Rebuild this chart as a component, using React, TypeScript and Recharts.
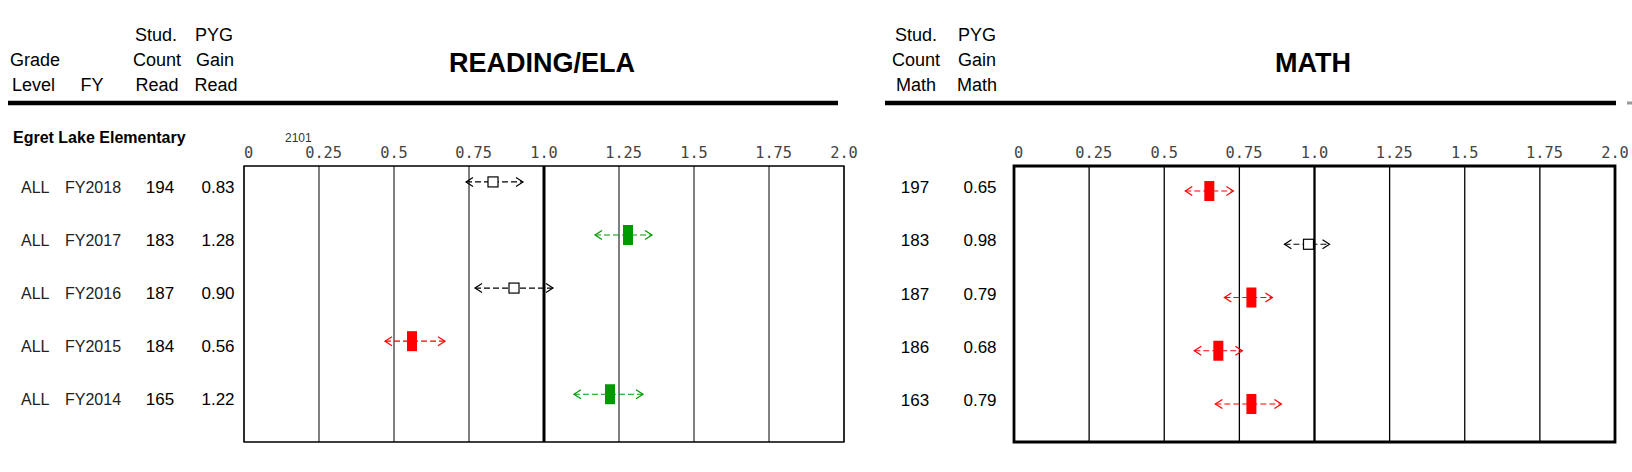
import React from 'react';
import {
  ScatterChart,
  Scatter,
  XAxis,
  YAxis,
  CartesianGrid,
  ReferenceLine,
  ReferenceArea,
} from 'recharts';

// school + rows
const schoolName = 'Egret Lake Elementary';
const schoolCode = '2101';
const gradeLevels = ['ALL', 'ALL', 'ALL', 'ALL', 'ALL'];
const fiscalYears = ['FY2018', 'FY2017', 'FY2016', 'FY2015', 'FY2014'];

// reading / ELA
const readCount = [194, 183, 187, 184, 165];
const readGain = [0.83, 1.28, 0.9, 0.56, 1.22];
const readLow = [0.74, 1.17, 0.77, 0.47, 1.1];
const readHigh = [0.93, 1.36, 1.03, 0.67, 1.33];
const readStatus = ['none', 'up', 'none', 'down', 'up'];

// math
const mathCount = [197, 183, 187, 186, 163];
const mathGain = [0.65, 0.98, 0.79, 0.68, 0.79];
const mathLow = [0.57, 0.9, 0.7, 0.6, 0.67];
const mathHigh = [0.73, 1.05, 0.86, 0.76, 0.89];
const mathStatus = ['down', 'none', 'down', 'down', 'down'];

const xTicks = [0, 0.25, 0.5, 0.75, 1, 1.25, 1.5, 1.75, 2];
const xTickLabels = ['0', '0.25', '0.5', '0.75', '1.0', '1.25', '1.5', '1.75', '2.0'];

const COLORS: Record<string, string> = { up: '#009a00', down: '#ff0000', none: '#000000' };
const SANS = '"Liberation Sans", Arial, sans-serif';
const MONO = '"DejaVu Sans Mono", monospace';
const CW = 9.2; // mono char width at 15.3px

const renderXTick = (props: any) => {
  const { x, payload } = props;
  const idx = xTicks.indexOf(payload.value);
  const label = xTickLabels[idx] ?? String(payload.value);
  const start = label.includes('.') ? x - CW * 1.5 : x;
  return (
    <text x={start} y={158} fontFamily={MONO} fontSize={15.3} fill="#444" textAnchor="start">
      {label}
    </text>
  );
};

const Chevron = (color: string) => (p: any) => {
  const { cx, cy, payload } = p;
  const dir = payload.end === 'lo' ? 1 : -1;
  const d = `M${cx + 7 * dir},${cy - 4.5} L${cx},${cy} L${cx + 7 * dir},${cy + 4.5}`;
  return <path d={d} stroke={color} fill="none" strokeWidth={1.2} />;
};

const Marker = (p: any) => {
  const { cx, cy, payload } = p;
  if (payload.status === 'none') {
    return <rect x={cx - 5} y={cy - 5} width={10} height={10} fill="#fff" stroke="#000" strokeWidth={1.2} />;
  }
  return <rect x={cx - 5} y={cy - 10} width={10} height={20} fill={COLORS[payload.status]} />;
};

interface PanelProps {
  left: number;
  width: number;
  yAxisWidth: number;
  marginRight: number;
  yDomain: [number, number];
  gains: number[];
  lows: number[];
  highs: number[];
  status: string[];
  frameWidth: number;
  gridWidth: number;
  midWidth: number;
  rowTick: (p: any) => React.ReactElement;
}

const Panel: React.FC<PanelProps> = ({
  left, width, yAxisWidth, marginRight, yDomain, gains, lows, highs, status,
  frameWidth, gridWidth, midWidth, rowTick,
}) => {
  const markers = gains.map((g, i) => ({ x: g, y: i, status: status[i] }));
  return (
    <div style={{ position: 'absolute', left, top: 0 }}>
      <ScatterChart width={width} height={472} margin={{ top: 136, right: marginRight, bottom: 30, left: 0 }}>
        <CartesianGrid horizontal={false} stroke="#000" strokeWidth={gridWidth} />
        <XAxis
          type="number"
          dataKey="x"
          domain={[0, 2]}
          ticks={xTicks}
          interval={0}
          orientation="top"
          height={30}
          axisLine={false}
          tickLine={false}
          tick={renderXTick}
        />
        <YAxis
          type="number"
          dataKey="y"
          domain={yDomain}
          ticks={[0, 1, 2, 3, 4]}
          reversed
          width={yAxisWidth}
          axisLine={false}
          tickLine={false}
          tick={rowTick}
          interval={0}
        />
        <ReferenceArea x1={0} x2={2} fill="none" stroke="#000" strokeWidth={frameWidth} />
        <ReferenceLine x={1} stroke="#000" strokeWidth={midWidth} />
        {gains.map((_, i) => {
          const color = COLORS[status[i]];
          return (
            <Scatter
              key={`r${i}`}
              data={[
                { x: lows[i], y: i, end: 'lo' },
                { x: highs[i], y: i, end: 'hi' },
              ]}
              line={{ stroke: color, strokeWidth: 1.2, strokeDasharray: '6 3' }}
              lineType="joint"
              shape={Chevron(color)}
              isAnimationActive={false}
            />
          );
        })}
        <Scatter data={markers} shape={Marker} isAnimationActive={false} />
      </ScatterChart>
    </div>
  );
};

const readRowTick = (p: any) => {
  const i = p.payload.value;
  const base = p.y + 11;
  return (
    <g>
      <text x={21} y={base} fontFamily={SANS} fontSize={16} fill="#222">{gradeLevels[i]}</text>
      <text x={65} y={base} fontFamily={SANS} fontSize={16} fill="#222">{fiscalYears[i]}</text>
      <text x={160} y={base} fontFamily={SANS} fontSize={17} fill="#000" textAnchor="middle">{readCount[i]}</text>
      <text x={218} y={base} fontFamily={SANS} fontSize={17} fill="#000" textAnchor="middle">{readGain[i].toFixed(2)}</text>
    </g>
  );
};

const mathRowTick = (p: any) => {
  const i = p.payload.value;
  const base = p.y + 2;
  return (
    <g>
      <text x={65} y={base} fontFamily={SANS} fontSize={17} fill="#000" textAnchor="middle">{mathCount[i]}</text>
      <text x={130} y={base} fontFamily={SANS} fontSize={17} fill="#000" textAnchor="middle">{mathGain[i].toFixed(2)}</text>
    </g>
  );
};

const Header = () => (
  <svg width={1632} height={472} style={{ position: 'absolute', left: 0, top: 0, pointerEvents: 'none' }}>
    <g fontFamily={SANS} fontSize={18} fill="#000">
      <text x={10} y={66}>Grade</text>
      <text x={12} y={91}>Level</text>
      <text x={92} y={91} textAnchor="middle">FY</text>
      <text x={156} y={41} textAnchor="middle">Stud.</text>
      <text x={157} y={66} textAnchor="middle">Count</text>
      <text x={157} y={91} textAnchor="middle">Read</text>
      <text x={214} y={41} textAnchor="middle">PYG</text>
      <text x={215} y={66} textAnchor="middle">Gain</text>
      <text x={216} y={91} textAnchor="middle">Read</text>

      <text x={916} y={41} textAnchor="middle">Stud.</text>
      <text x={916} y={66} textAnchor="middle">Count</text>
      <text x={916} y={91} textAnchor="middle">Math</text>
      <text x={977} y={41} textAnchor="middle">PYG</text>
      <text x={977} y={66} textAnchor="middle">Gain</text>
      <text x={977} y={91} textAnchor="middle">Math</text>
    </g>
    <text x={542} y={72} fontFamily={SANS} fontSize={27} fontWeight="bold" textAnchor="middle">READING/ELA</text>
    <text x={1313} y={72} fontFamily={SANS} fontSize={27} fontWeight="bold" textAnchor="middle">MATH</text>
    <line x1={8} x2={838} y1={103} y2={103} stroke="#000" strokeWidth={4.5} />
    <line x1={885} x2={1616} y1={103} y2={103} stroke="#000" strokeWidth={4.5} />
    <line x1={1627} x2={1632} y1={103} y2={103} stroke="#999" strokeWidth={3} />
    <text x={13} y={143} fontFamily={SANS} fontSize={16} fontWeight="bold">{schoolName}</text>
    <text x={285} y={142} fontFamily={SANS} fontSize={12} fill="#333">{schoolCode}</text>
  </svg>
);

export default function App() {
  return (
    <div style={{ position: 'absolute', left: 0, top: 0, width: 1632, height: 472, background: '#fff', overflow: 'hidden' }}>
      <Panel
        left={0}
        width={870}
        yAxisWidth={244}
        marginRight={26}
        yDomain={[-0.3, 4.9]}
        gains={readGain}
        lows={readLow}
        highs={readHigh}
        status={readStatus}
        frameWidth={1.3}
        gridWidth={1}
        midWidth={3}
        rowTick={readRowTick}
      />
      <Panel
        left={850}
        width={782}
        yAxisWidth={164}
        marginRight={17}
        yDomain={[-0.47, 4.714]}
        gains={mathGain}
        lows={mathLow}
        highs={mathHigh}
        status={mathStatus}
        frameWidth={2.8}
        gridWidth={1.3}
        midWidth={2.2}
        rowTick={mathRowTick}
      />
      <Header />
    </div>
  );
}
